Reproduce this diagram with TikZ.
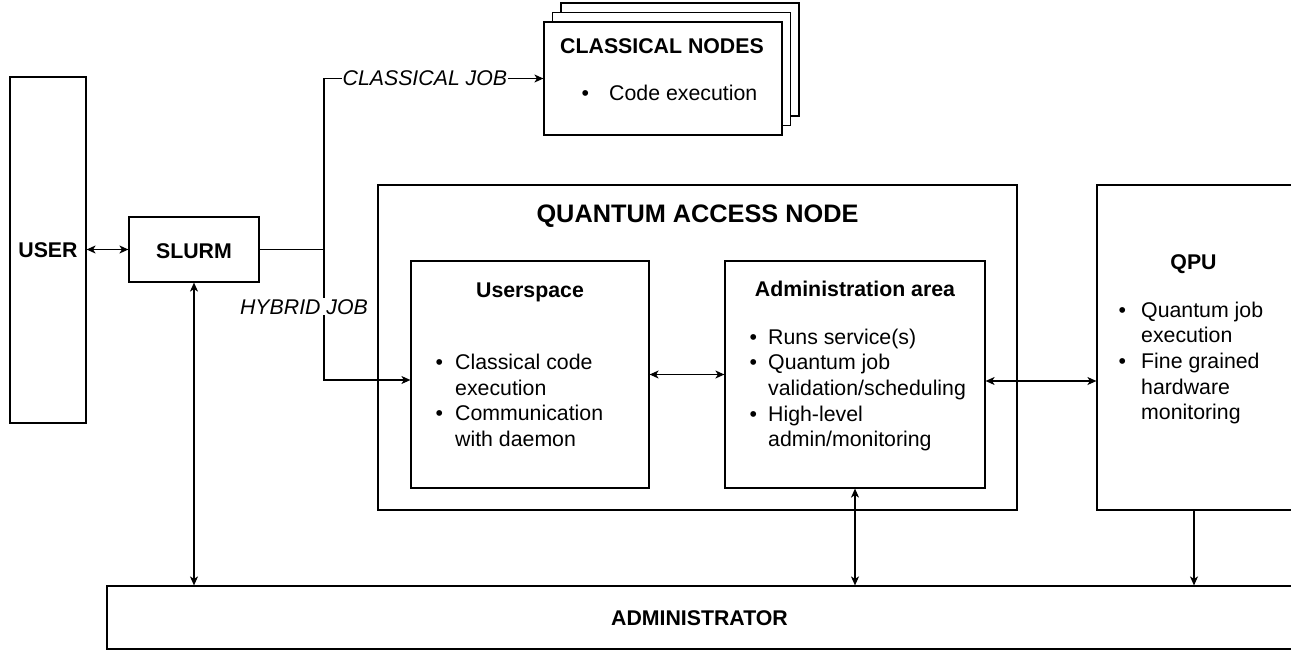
\documentclass[tikz,border=0pt]{standalone}
\usepackage{fontspec}
\setmainfont{Liberation Sans}
\usetikzlibrary{arrows.meta,calc}
\newcommand{\txt}{\fontsize{21.3}{25.7}\selectfont}
\newcommand{\ttl}{\fontsize{25.3}{30}\selectfont\bfseries}
\newcommand{\bul}[1]{\makebox[#1][l]{\textbullet}}
\begin{document}
\begin{tikzpicture}[x=1pt,y=-1pt,
  box/.style={draw, line width=1.2pt, fill=white, inner sep=0pt},
  hd/.style={font=\txt\bfseries, anchor=base, inner sep=0pt},
  lst/.style={font=\txt, anchor=base west, inner sep=0pt},
  lbl/.style={font=\txt\itshape, fill=white, inner sep=1pt},
  con/.style={line width=1.2pt},
  arr/.style={con, -{Stealth[length=9pt,width=8pt,inset=2.5pt]}},
  arrr/.style={con, {Stealth[length=9pt,width=8pt,inset=2.5pt]}-{Stealth[length=9pt,width=8pt,inset=2.5pt]}}
]
\useasboundingbox (0,0) rectangle (1291,651);

% boxes
\node[box, minimum width=76pt, minimum height=346pt] (user) at (48,250) {};
\node[box, minimum width=130pt, minimum height=65pt] (slurm) at (194,249.5) {};
\node[box, minimum width=238pt, minimum height=113pt] (cn3) at (680,59.5) {};
\node[box, minimum width=238pt, minimum height=113pt] (cn2) at (671.5,69) {};
\node[box, minimum width=238pt, minimum height=113pt] (cn1) at (663,78.5) {};
\node[box, minimum width=639pt, minimum height=325pt] (qan) at (697.5,347.5) {};
\node[box, minimum width=238pt, minimum height=227pt] (us) at (530,374.5) {};
\node[box, minimum width=260pt, minimum height=227pt] (aa) at (855,374.5) {};
\node[box, minimum width=203pt, minimum height=325pt] (qpu) at (1198.5,347.5) {};
\node[box, minimum width=1193pt, minimum height=63pt] (adm) at (703.5,617.5) {};

% texts
\node[hd] (tuser) at (48,257.6) {USER};
\node[hd] (tslurm) at (194,258) {SLURM};
\node[hd] (tcn) at (662,53) {CLASSICAL NODES};
\node[lst] (lcn) at (581.3,100) {\begin{tabular}[t]{@{}l@{}l@{}}\bul{27.7pt}&Code execution\end{tabular}};
\node[font=\ttl, anchor=base, inner sep=0pt] (tqan) at (697.5,222) {QUANTUM ACCESS NODE};
\node[hd] (tus) at (530,297.5) {Userspace};
\node[lst] (lus) at (435.3,369.5) {\begin{tabular}[t]{@{}l@{}l@{}}\bul{19.7pt}&Classical code\\&execution\\\bul{19.7pt}&Communication\\&with daemon\end{tabular}};
\node[hd] (taa) at (855,296) {Administration area};
\node[lst] (laa) at (749.3,344) {\begin{tabular}[t]{@{}l@{}l@{}}\bul{18.7pt}&Runs service(s)\\\bul{18.7pt}&Quantum job\\&validation/scheduling\\\bul{18.7pt}&High-level\\&admin/monitoring\end{tabular}};
\node[hd] (tqpu) at (1193.5,269) {QPU};
\node[lst] (lqpu) at (1118.3,317) {\begin{tabular}[t]{@{}l@{}l@{}}\bul{22.7pt}&Quantum job\\&execution\\\bul{22.7pt}&Fine grained\\&hardware\\&monitoring\end{tabular}};
\node[hd] (tadm) at (699.5,625.6) {ADMINISTRATOR};

% connectors
\coordinate (j) at (324,249.5);
\coordinate (qx) at (1194,0);
\draw[arrr] (user.east |- slurm.west) -- (slurm.west);
\draw[con] (slurm.east) -- (j);
\draw[arr] (j) |- node[lbl, pos=0.73] (lclassical) {CLASSICAL JOB} (cn1.west);
\path (us.west) ++(0,5.5) coordinate (hyend);
\draw[arr] (j) |- (hyend);
\node[lbl, anchor=base] (lhybrid) at (304,314) {HYBRID JOB};
\draw[arrr] (us.east) -- (aa.west);
\path (aa.east) ++(0,6.5) coordinate (aq);
\draw[arrr] (aq) -- (aq -| qpu.west);
\draw[arrr] (slurm.south) -- (slurm.south |- adm.north);
\draw[arrr] (aa.south) -- (aa.south |- adm.north);
\draw[arr] (qpu.south -| qx) -- (adm.north -| qx);
\end{tikzpicture}
\end{document}
